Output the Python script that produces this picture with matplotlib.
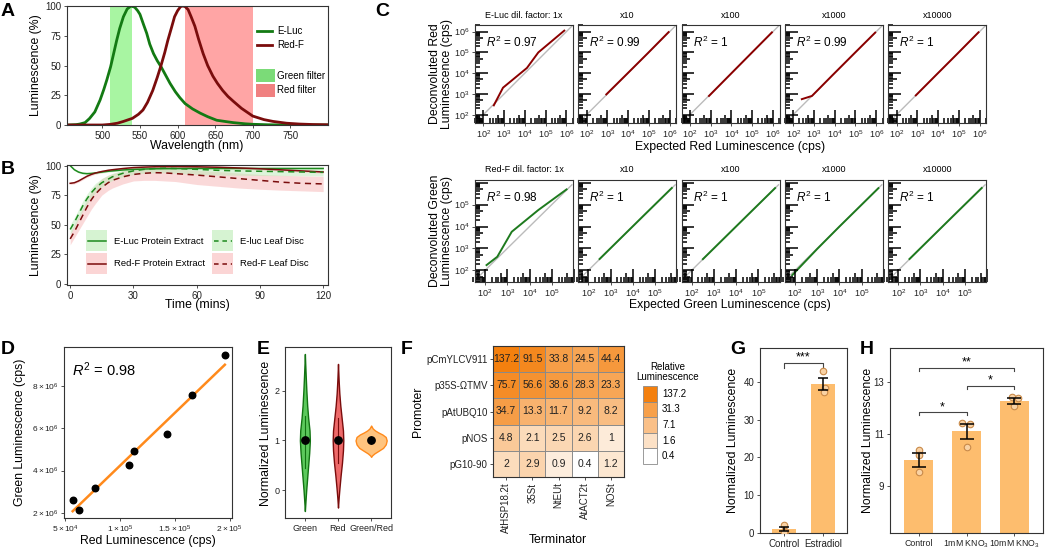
import numpy as np
import matplotlib
matplotlib.use('Agg')
import matplotlib.pyplot as plt
from matplotlib.colors import LogNorm, LinearSegmentedColormap
from matplotlib.patches import Rectangle

plt.rcParams['font.family'] = ['Liberation Sans', 'DejaVu Sans']
plt.rcParams['mathtext.fontset'] = 'custom'
plt.rcParams['mathtext.rm'] = 'Liberation Sans'
plt.rcParams['mathtext.it'] = 'Liberation Sans:italic'
plt.rcParams['mathtext.bf'] = 'Liberation Sans:bold'

# ---------------- DATA ----------------
# A: emission spectra
wl_eluc = [455, 465, 470, 477, 483, 490, 497, 502, 506, 511, 515, 519, 523, 528, 533, 538, 543, 547, 550,
           555, 559, 563, 568, 573, 578, 584, 590, 597, 603, 610, 620, 630, 640, 652, 665, 674, 690, 700,
           720, 750, 800]
pct_eluc = [0, 0.3, 0.8, 2, 5.5, 11, 21, 30, 38, 49, 60, 71, 81, 91, 97.5, 100, 99, 96, 93,
            84, 77, 68, 60, 54, 49, 42, 35, 28, 23, 18, 13.5, 10, 7, 4, 2.8, 2, 1, 0.6,
            0.2, 0, 0]
wl_redf = [455, 500, 510, 520, 528, 540, 548, 554, 560, 567, 573, 578, 583, 587, 592, 596, 600, 604, 607,
           610, 614, 618, 623, 628, 634, 640, 647, 653, 660, 667, 674, 685, 700, 715, 727, 745, 762, 780, 800]
pct_redf = [0, 0, 0.5, 1.5, 3, 5.6, 9, 12.6, 19, 29, 40, 50, 61, 71, 82, 91, 96, 99.5, 100,
            99.5, 97, 91, 83, 72, 60, 50, 41, 35, 29, 24, 20, 14, 7.5, 4.5, 3, 1.5, 0.8, 0.4, 0.2]
green_filter = (510, 540)
red_filter = (610, 700)

# B: luminescence over time
t_min = [0, 2, 4, 6, 8, 10, 12, 15, 18, 20, 25, 30, 35, 40, 45, 50, 60, 70, 80, 90, 100, 110, 120]
eluc_prot = [100, 96.5, 94.5, 93.5, 93.2, 93.4, 93.8, 94.5, 95.2, 95.5, 96.3, 96.8, 97.1, 97.3, 97.4, 97.5,
             97.6, 97.6, 97.6, 97.6, 97.6, 97.6, 97.6]
redf_prot = [85, 85.5, 87, 89, 91, 92.5, 93.7, 95, 96, 96.5, 97.5, 98.3, 98.7, 99, 99.1, 99.2, 99, 98.6,
             98, 97.3, 96.4, 95.5, 94.6]
eluc_leaf = [46, 52, 59, 66, 72, 77, 81, 85.5, 88.5, 90.5, 93.5, 95.5, 96.8, 97.5, 97.8, 97.5, 96.8, 96,
             95.5, 95.2, 94.9, 94.6, 94.3]
eluc_leaf_lo = [42, 48, 55, 62, 68, 73, 77, 82, 85.5, 87.5, 90.5, 92.5, 93.5, 94, 94, 93.5, 92.5, 92,
                91.8, 91.6, 91.5, 91.4, 91.3]
eluc_leaf_hi = [50, 56, 63, 70, 76, 81, 85, 89, 92, 93.5, 96, 98, 99, 99.5, 99.6, 99.4, 99, 98.6,
                98.3, 98, 97.8, 97.6, 97.4]
redf_leaf = [38, 44, 51, 58, 65, 71, 76, 81.5, 85.5, 87.5, 90.5, 92.5, 93.5, 94, 93.8, 93.2, 92, 90.5,
             89, 87.5, 86, 85, 84.5]
redf_leaf_lo = [33, 39, 45, 51, 57, 63, 68, 75, 79, 81, 84.5, 87, 87.5, 87.5, 87, 86.5, 84, 82.5,
                81, 80, 79.2, 78.6, 78]
redf_leaf_hi = [43, 50, 57, 64, 71, 78, 83, 89, 91.5, 93, 95.5, 97, 97.8, 98, 97.8, 97.2, 96, 95,
                93.8, 92.5, 91.8, 91.3, 91]

# C: deconvolution
dil_titles_red = ['E-Luc dil. factor: 1x', 'x10', 'x100', 'x1000', 'x10000']
dil_titles_green = ['Red-F dil. factor: 1x', 'x10', 'x100', 'x1000', 'x10000']
r2_red = ['0.97', '0.99', '1', '0.99', '1']
r2_green = ['0.98', '1', '1', '1', '1']
exp_red = [[320, 890, 12600, 44700, 794000],
           [890, 8900, 89000, 891000],
           [830, 8300, 83000, 891000],
           [260, 800, 8000, 80000, 891000],
           [850, 8500, 85000, 891000]]
dec_red = [[282, 2000, 17800, 100000, 1120000],
           [950, 9300, 92000, 950000],
           [800, 8200, 84000, 920000],
           [560, 800, 8200, 82000, 900000],
           [850, 8600, 86000, 930000]]
exp_green = [[117, 355, 1580, 24500, 457000],
             [320, 3200, 32000, 560000],
             [320, 3200, 32000, 560000],
             [75, 1000, 10000, 560000],
             [320, 3200, 32000, 560000]]
dec_green = [[174, 417, 5750, 56000, 490000],
             [330, 3300, 33000, 570000],
             [325, 3250, 32500, 565000],
             [60, 950, 10000, 560000],
             [330, 3300, 33000, 570000]]

# D: green vs red luminescence
red_cps = [5.69e4, 6.23e4, 7.69e4, 1.081e5, 1.126e5, 1.425e5, 1.656e5, 1.955e5]
green_cps = [2.62e6, 2.14e6, 3.17e6, 4.25e6, 4.93e6, 5.71e6, 7.56e6, 9.48e6]

# E: violins (level, half width)
vio_labels = ['Green', 'Red', 'Green/Red']
vy_g = [-0.42, -0.2, 0.0, 0.25, 0.5, 0.75, 1.0, 1.2, 1.45, 1.7, 2.0, 2.3, 2.55, 2.74]
hw_g = [0, 0.02, 0.04, 0.07, 0.10, 0.13, 0.15, 0.14, 0.10, 0.07, 0.045, 0.025, 0.01, 0]
vy_r = [-0.35, -0.15, 0.05, 0.3, 0.55, 0.8, 1.0, 1.2, 1.45, 1.7, 1.95, 2.2, 2.4, 2.54]
hw_r = [0, 0.02, 0.045, 0.08, 0.12, 0.15, 0.16, 0.15, 0.11, 0.07, 0.04, 0.02, 0.008, 0]
vy_gr = [0.67, 0.70, 0.74, 0.79, 0.85, 0.92, 1.0, 1.07, 1.12, 1.16, 1.20, 1.24, 1.28, 1.30]
hw_gr = [0, 0.03, 0.10, 0.22, 0.36, 0.44, 0.47, 0.44, 0.34, 0.22, 0.12, 0.05, 0.015, 0]
vio_box_g = (0.45, 1.5)
vio_box_r = (0.55, 1.45)
vio_mean = [1.0, 1.0, 1.0]
gr_err = 0.08

# F: heatmap
promoters = ['pCmYLCV911', 'p35S-\u03A9TMV', 'pAtUBQ10', 'pNOS', 'pG10-90']
terminators = ['AtHSP18.2t', '35St', 'NtEUt', 'AtACT2t', 'NOSt']
heat = np.array([[137.2, 91.5, 33.8, 24.5, 44.4],
                 [75.7, 56.6, 38.6, 28.3, 23.3],
                 [34.7, 13.3, 11.7, 9.2, 8.2],
                 [4.8, 2.1, 2.5, 2.6, 1],
                 [2, 2.9, 0.9, 0.4, 1.2]])
heat_legend = [137.2, 31.3, 7.1, 1.6, 0.4]

# G
g_groups = ['Control', 'Estradiol']
g_mean = [1.0, 39.4]
g_err = [0.55, 1.65]
g_pts = [[2.1, 0.6, 0.3], [42.7, 38.3, 37.4]]
g_jit = [[0.0, 0.03, 0.0], [0.0, 0.05, 0.02]]

# H
h_groups = ['Control', '1mM KNO$_3$', '10mM KNO$_3$']
h_mean = [10.0, 11.1, 12.28]
h_err = [0.26, 0.3, 0.11]
h_pts = [[10.39, 10.2, 9.53], [11.41, 11.38, 10.51], [12.43, 12.4, 12.07]]
h_jit = [[0.0, 0.0, 0.0], [-0.1, 0.08, 0.0], [-0.05, 0.08, 0.0]]

# ---------------- STYLE ----------------
GREEN = '#137A13'
RED = '#7A0C0C'
ORANGE = '#FF8A1C'
BAR = '#FDBD6E'
W, H = 1050, 554
fig = plt.figure(figsize=(W / 100, H / 100), dpi=100)


def add_ax(l, t, r, b):
    return fig.add_axes([l / W, 1 - b / H, (r - l) / W, (b - t) / H])


def style(ax, fs=6.5):
    for sp in ax.spines.values():
        sp.set_color('#333333')
        sp.set_linewidth(0.8)
    ax.tick_params(direction='out', length=2.5, width=0.6, color='#333333', labelsize=fs,
                   labelcolor='#222222', pad=1.5)


ov = fig.add_axes([0, 0, 1, 1], zorder=10)
ov.set_xlim(0, W)
ov.set_ylim(H, 0)
ov.axis('off')
ov.patch.set_alpha(0)

TFS = 8.8


def otext(x, y, s, **kw):
    kw.setdefault('ha', 'center')
    kw.setdefault('va', 'center')
    ov.text(x, y, s, **kw)


for lab, (x, y) in {'A': (8, 12), 'B': (8, 170), 'C': (382, 11), 'D': (8, 350), 'E': (263, 350),
                    'F': (407, 350), 'G': (738, 350), 'H': (867, 350)}.items():
    otext(x, y, lab, fontsize=14, fontweight='bold')

# ---------------- A ----------------
axA = add_ax(67, 6, 328, 125)
axA.axvspan(*green_filter, color='#A8F5A2', lw=0)
axA.axvspan(*red_filter, color='#FFA5A5', lw=0)
axA.plot(wl_eluc, pct_eluc, color=GREEN, lw=2)
axA.plot(wl_redf, pct_redf, color=RED, lw=2)
axA.set_xlim(453, 800)
axA.set_ylim(0, 100)
axA.set_xticks([500, 550, 600, 650, 700, 750])
axA.set_yticks([0, 25, 50, 75, 100])
style(axA, 7)
otext(36, 65, 'Luminescence (%)', rotation=90, fontsize=TFS)
otext(197, 146, 'Wavelength (nm)', fontsize=TFS)
ov.plot([257, 272], [31, 31], color=GREEN, lw=2)
ov.plot([257, 272], [45, 45], color=RED, lw=2)
otext(277, 31, 'E-Luc', ha='left', fontsize=7)
otext(277, 45, 'Red-F', ha='left', fontsize=7)
ov.add_patch(Rectangle((256, 68.5), 19, 13.5, color='#7BDB78', lw=0))
ov.add_patch(Rectangle((256, 83.5), 19, 13.5, color='#F08080', lw=0))
otext(277, 76, 'Green filter', ha='left', fontsize=7)
otext(277, 90, 'Red filter', ha='left', fontsize=7)

# ---------------- B ----------------
axB = add_ax(67, 165, 328, 285)
axB.fill_between(t_min, redf_leaf_lo, redf_leaf_hi, color='#F7B5B5', alpha=0.5, lw=0)
axB.fill_between(t_min, eluc_leaf_lo, eluc_leaf_hi, color='#BDEBB8', alpha=0.5, lw=0)
axB.fill_between(t_min, np.array(redf_prot) - 1, np.array(redf_prot) + 1, color='#F7B5B5', alpha=0.5, lw=0)
axB.fill_between(t_min, np.array(eluc_prot) - 0.8, np.array(eluc_prot) + 0.8, color='#BDEBB8', alpha=0.5, lw=0)
axB.plot(t_min, eluc_prot, color='#1E8A1E', lw=1.1)
axB.plot(t_min, redf_prot, color=RED, lw=1.1)
axB.plot(t_min, eluc_leaf, color='#1E8A1E', lw=1.1, ls=(0, (4, 3)))
axB.plot(t_min, redf_leaf, color=RED, lw=1.1, ls=(0, (4, 3)))
axB.set_xlim(-1.5, 122.3)
axB.set_ylim(-1, 100.5)
axB.set_xticks([0, 30, 60, 90, 120])
axB.set_yticks([0, 25, 50, 75, 100])
style(axB, 7)
otext(36, 225, 'Luminescence (%)', rotation=90, fontsize=TFS)
otext(197, 305, 'Time (mins)', fontsize=TFS)
leg_items = [((86, 230), '#D6F3D2', '#1E8A1E', '-', 'E-Luc Protein Extract'),
             ((86, 253), '#FBD5D5', RED, '-', 'Red-F Protein Extract'),
             ((212, 230), '#D6F3D2', '#1E8A1E', (0, (3, 2.5)), 'E-luc Leaf Disc'),
             ((212, 253), '#FBD5D5', RED, (0, (3, 2.5)), 'Red-F Leaf Disc')]
for (x0, y0), fc, lc, ls, lab in leg_items:
    ov.add_patch(Rectangle((x0, y0), 21, 21, color=fc, lw=0))
    ov.plot([x0 + 1.5, x0 + 19.5], [y0 + 10.5, y0 + 10.5], color=lc, lw=1.1, ls=ls)
    otext(x0 + 28, y0 + 11, lab, ha='left', fontsize=6.8)

# ---------------- C ----------------
def logticks(ax, lo, hi):
    for e in range(1, 8):
        for m in range(1, 10):
            v = m * 10.0 ** e
            lv = np.log10(v)
            if lv < lo or lv > hi:
                continue
            L = 0.13 if m == 1 else (0.085 if m == 5 else 0.05)
            ax.plot([0, L], [v, v], transform=ax.get_yaxis_transform(), color='black', lw=1.1,
                    solid_capstyle='butt', clip_on=False)
            ax.plot([v, v], [0, L], transform=ax.get_xaxis_transform(), color='black', lw=1.1,
                    solid_capstyle='butt', clip_on=False)


def c_row(top, bot, xlo, xhi, ylo, yhi, xt, yt, titles, r2s, xs, ys, col):
    for i in range(5):
        l = 475 + i * 103.3
        ax = add_ax(l, top, l + 98, bot)
        ax.set_xscale('log')
        ax.set_yscale('log')
        ax.plot([10 ** xlo, 10 ** (xhi - 0.05)], [10 ** xlo, 10 ** (xhi - 0.05)], color='#BBBBBB', lw=1)
        ax.plot(xs[i], ys[i], color=col, lw=1.4)
        ax.set_xlim(10 ** xlo, 10 ** xhi)
        ax.set_ylim(10 ** ylo, 10 ** yhi)
        ax.set_xticks([10.0 ** k for k in xt])
        ax.set_xticklabels([r'$10^{%d}$' % k for k in xt])
        ax.set_yticks([10.0 ** k for k in yt])
        ax.minorticks_off()
        style(ax, 6.5)
        if i == 0:
            ax.set_yticklabels([r'$10^{%d}$' % k for k in yt])
        else:
            ax.set_yticklabels([])
            ax.tick_params(axis='y', length=0)
        logticks(ax, min(xlo, ylo), max(xhi, yhi))
        otext(l + 49, top - 10, titles[i], fontsize=6.5)
        otext(l + 11, top + 17, r'$R^2$ = ' + r2s[i], ha='left', fontsize=8.5)


c_row(25, 123, 1.6, 6.32, 1.6, 6.32, [2, 3, 4, 5, 6], [2, 3, 4, 5, 6], dil_titles_red, r2_red,
      exp_red, dec_red, '#8B0000')
c_row(180, 282, 1.55, 5.95, 1.47, 6.12, [2, 3, 4, 5], [2, 3, 4, 5], dil_titles_green, r2_green,
      exp_green, dec_green, '#1E7A1E')
otext(441, 74, 'Deconvoluted Red\nLuminescence (cps)', rotation=90, fontsize=TFS, linespacing=1.0)
otext(441, 231, 'Deconvoluted Green\nLuminescence (cps)', rotation=90, fontsize=TFS, linespacing=1.0)
otext(730, 147, 'Expected Red Luminescence (cps)', fontsize=TFS)
otext(730, 305, 'Expected Green Luminescence (cps)', fontsize=TFS)

# ---------------- D ----------------
axD = add_ax(64, 347, 232, 518)
coef = np.polyfit(red_cps, green_cps, 1)
xf = np.array([min(red_cps), max(red_cps)])
axD.plot(xf, np.polyval(coef, xf), color=ORANGE, lw=1.8)
axD.scatter(red_cps, green_cps, s=22, color='black', zorder=3)
axD.set_xlim(4.9e4, 2.02e5)
axD.set_ylim(1.75e6, 9.85e6)
axD.set_xticks([5e4, 1e5, 1.5e5, 2e5])
axD.set_xticklabels([r'$5\times10^4$', r'$1\times10^5$', r'$1.5\times10^5$', r'$2\times10^5$'])
axD.set_yticks([2e6, 4e6, 6e6, 8e6])
axD.set_yticklabels([r'$2\times10^6$', r'$4\times10^6$', r'$6\times10^6$', r'$8\times10^6$'])
style(axD, 6)
otext(72, 370, r'$R^2$ = 0.98', ha='left', fontsize=10.5)
otext(20, 432, 'Green Luminescence (cps)', rotation=90, fontsize=TFS)
otext(148, 541, 'Red Luminescence (cps)', fontsize=TFS)

# ---------------- E ----------------
axE = add_ax(285, 347, 391, 518)
for pos, vy, hw, fc, ec in [(1, vy_g, hw_g, '#5CC95C', '#127312'), (2, vy_r, hw_r, '#EE6A6A', '#7A0C0C'),
                            (3, vy_gr, hw_gr, '#FFC47F', ORANGE)]:
    axE.fill_betweenx(vy, pos - np.array(hw), pos + np.array(hw), facecolor=fc, edgecolor=ec, lw=1.0)
axE.plot([1, 1], vio_box_g, color='#127312', lw=0.8)
axE.plot([2, 2], vio_box_r, color='#7A0C0C', lw=0.8)
axE.errorbar([3], [vio_mean[2]], yerr=gr_err, color='black', lw=0.8, capsize=0)
axE.scatter([1, 2, 3], vio_mean, s=28, color='black', zorder=4)
axE.set_xlim(0.4, 3.6)
axE.set_ylim(-0.56, 2.88)
axE.set_xticks([1, 2, 3])
axE.set_xticklabels(vio_labels)
axE.set_yticks([0, 1, 2])
style(axE, 6.5)
otext(266, 433, 'Normalized Luminescence', rotation=90, fontsize=TFS)

# ---------------- F ----------------
cmap = LinearSegmentedColormap.from_list('or', ['#FFFFFF', '#F4800E'])
norm = LogNorm(0.4, 137.2)
axF = add_ax(493, 346, 624, 477)
axF.imshow(heat, cmap=cmap, norm=norm, aspect='auto')
for r in range(5):
    for c in range(5):
        axF.add_patch(Rectangle((c - 0.5, r - 0.5), 1, 1, fill=False, edgecolor='#8A8A8A', lw=0.6))
        v = heat[r, c]
        axF.text(c, r, ('%g' % v), ha='center', va='center', fontsize=7.5, color='#222222')
axF.set_xticks(range(5))
axF.set_xticklabels(terminators, rotation=90)
axF.set_yticks(range(5))
axF.set_yticklabels(promoters)
style(axF, 7)
otext(418, 412, 'Promoter', rotation=90, fontsize=TFS)
otext(558, 540, 'Terminator', fontsize=TFS)
otext(668, 372, 'Relative\nLuminescence', fontsize=7, linespacing=1.0)
for k, v in enumerate(heat_legend):
    y0 = 386 + k * 15.6
    ov.add_patch(Rectangle((643, y0), 14, 15.6, facecolor=cmap(norm(v)), edgecolor='#8A8A8A', lw=0.6))
    otext(662, y0 + 7.8, '%g' % v, ha='left', fontsize=7)

# ---------------- G ----------------
ptkw = dict(s=22, facecolor='#F9D2A4', edgecolor='#C98A4A', linewidth=0.8, zorder=4)
axG = add_ax(760, 348, 847, 533)
gx = np.arange(1, len(g_groups) + 1)
axG.bar(gx, g_mean, width=0.6, color=BAR)
axG.errorbar(gx, g_mean, yerr=g_err, fmt='none', ecolor='black', elinewidth=1.1, capsize=3.6, capthick=1.1, zorder=5)
for i in range(len(gx)):
    axG.scatter(gx[i] + np.array(g_jit[i]), g_pts[i], **ptkw)
axG.plot([1, 1, 2, 2], [43.6, 45.05, 45.05, 43.6], color='#444444', lw=0.8)
axG.annotate('***', (1.5, 45.05), xytext=(0, 1.5), textcoords='offset points', ha='center', va='baseline', fontsize=9)
axG.set_xlim(0.4, 2.6)
axG.set_ylim(0, 48.9)
axG.set_xticks(gx)
axG.set_xticklabels(g_groups)
axG.set_yticks([0, 10, 20, 30, 40])
style(axG, 7)
otext(733, 440, 'Normalized Luminescence', rotation=90, fontsize=TFS)

# ---------------- H ----------------
axH = add_ax(890, 348, 1043, 533)
hx = np.arange(1, len(h_groups) + 1)
axH.bar(hx, h_mean, width=0.6, color=BAR)
axH.errorbar(hx, h_mean, yerr=h_err, fmt='none', ecolor='black', elinewidth=1.1, capsize=4.7, capthick=1.1, zorder=5)
for i in range(len(hx)):
    axH.scatter(hx[i] + np.array(h_jit[i]), h_pts[i], **ptkw)
for (a, b, y) in [(1, 2, 11.84), (2, 3, 12.85), (1, 3, 13.54)]:
    axH.plot([a, a, b, b], [y - 0.12, y, y, y - 0.12], color='#444444', lw=0.8)
    axH.annotate('*' if (b - a) == 1 else '**', ((a + b) / 2, y), xytext=(0, 1.5), textcoords='offset points',
                 ha='center', va='baseline', fontsize=9)
axH.set_xlim(0.4, 3.6)
axH.set_ylim(7.2, 14.3)
axH.set_xticks(hx)
axH.set_xticklabels(h_groups)
axH.set_yticks([9, 11, 13])
style(axH, 7)
axH.tick_params(axis='x', labelsize=6.3)
otext(868, 440, 'Normalized Luminescence', rotation=90, fontsize=TFS)

fig.savefig('out.png', dpi=100)
